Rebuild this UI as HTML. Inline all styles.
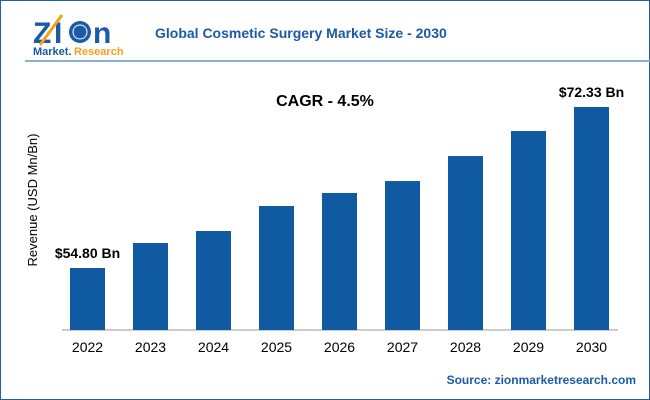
<!DOCTYPE html>
<html><head><meta charset="utf-8"><style>
body{margin:0;width:650px;height:400px;overflow:hidden;background:#fff;font-family:"Liberation Sans",sans-serif}
#frame{position:absolute;left:0;top:0;width:648px;height:398px;border:1px solid #1f5fa8}
</style></head><body>
<div id="frame"></div>
<svg width="650" height="400" style="position:absolute;left:0;top:0">
<g>
<text x="33" y="43" font-size="30" font-weight="bold" fill="#1a5aa6" font-family="Liberation Sans">Z</text>
<text x="54" y="43" font-size="30" font-weight="bold" fill="#1a5aa6">I</text>
<circle cx="80" cy="32" r="11" fill="#1a5aa6"/>
<circle cx="80" cy="32" r="7" fill="none" stroke="#fff" stroke-width="1"/>
<text x="93" y="43" font-size="30" font-weight="bold" fill="#1a5aa6">n</text>
<line x1="40" y1="45" x2="62" y2="15" stroke="#f4a020" stroke-width="3"/>
<text x="33" y="55" font-size="11" font-weight="bold" fill="#1a5aa6">Market.</text>
<text x="74" y="55" font-size="11" font-weight="bold" fill="#f4a020">Research</text>
</g>
<line x1="25" y1="61" x2="650" y2="61" stroke="#8aaed6" stroke-width="2"/>
<text x="155" y="38" font-size="14" font-weight="bold" fill="#1a5aa6">Global Cosmetic Surgery Market Size - 2030</text>
<text x="325" y="106" font-size="16" font-weight="bold" fill="#000" text-anchor="middle">CAGR - 4.5%</text>
<text transform="translate(37,200) rotate(-90)" font-size="13" text-anchor="middle" fill="#000">Revenue (USD Mn/Bn)</text>
<line x1="62" y1="330" x2="618" y2="330" stroke="#999"/>
<g id="bars"></g>
<text x="636" y="384" font-size="12" font-weight="bold" fill="#1a5aa6" text-anchor="end">Source: zionmarketresearch.com</text>
</svg>
<script>
const categories=["2022","2023","2024","2025","2026","2027","2028","2029","2030"];
const values=[54.8,57.52,58.83,61.55,62.97,64.27,66.99,69.72,72.33];
const labels=["$54.80 Bn","","","","","","","","$72.33 Bn"];
const ns="http://www.w3.org/2000/svg";
const g=document.getElementById('bars');
const x=i=>70+i*63, y=v=>330-(v-48.05)*9.184;
categories.forEach((c,i)=>{
 const r=document.createElementNS(ns,'rect');
 r.setAttribute('x',x(i));r.setAttribute('y',y(values[i]));r.setAttribute('width',35);r.setAttribute('height',330-y(values[i]));r.setAttribute('fill','#0f5aa0');
 
 
 g.appendChild(r);
 const t=document.createElementNS(ns,'text');
 t.setAttribute('x',x(i)+17.5);t.setAttribute('y',352);t.setAttribute('text-anchor','middle');t.setAttribute('font-size','14');t.textContent=c;
 
 
 g.appendChild(t);
 if(labels[i]){
  const l=document.createElementNS(ns,'text');
  l.setAttribute('x',x(i)+17.5);l.setAttribute('y',y(values[i])-10);l.setAttribute('text-anchor','middle');l.setAttribute('font-size','14');l.setAttribute('font-weight','bold');l.textContent=labels[i];
  
  
  g.appendChild(l);
 }
});
</script>
</body></html>
